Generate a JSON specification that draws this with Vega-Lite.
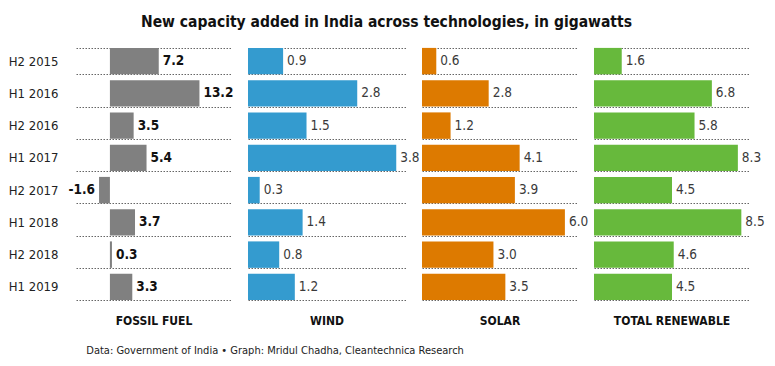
{
  "$schema": "https://vega.github.io/schema/vega-lite/v6.json",
  "padding": {"left": 8, "top": 14, "right": 2, "bottom": 5},
  "config": {
    "font": "DejaVu Sans Condensed, sans-serif",
    "locale": {"number": {"decimal": ".", "thousands": ",", "grouping": [3], "currency": ["$", ""], "minus": "-"}},
    "view": {"stroke": null},
    "axisY": {
      "labelFontSize": 13,
      "labelColor": "#222",
      "labelPadding": 18,
      "ticks": false,
      "domain": false,
      "grid": true,
      "tickBand": "extent",
      "gridDash": [1.5, 1.5],
      "gridColor": "#666",
      "gridWidth": 1,
      "title": null
    },
    "title": {"font": "DejaVu Sans Condensed, sans-serif"}
  },
  "title": {
    "text": "New capacity added in India across technologies, in gigawatts",
    "fontSize": 15.5,
    "fontWeight": "bold",
    "color": "#111",
    "anchor": "middle",
    "offset": 9
  },
  "data": {
    "values": [
      {"period": "H2 2015", "tech": "Fossil Fuel", "value": 7.2},
      {"period": "H1 2016", "tech": "Fossil Fuel", "value": 13.2},
      {"period": "H2 2016", "tech": "Fossil Fuel", "value": 3.5},
      {"period": "H1 2017", "tech": "Fossil Fuel", "value": 5.4},
      {"period": "H2 2017", "tech": "Fossil Fuel", "value": -1.6},
      {"period": "H1 2018", "tech": "Fossil Fuel", "value": 3.7},
      {"period": "H2 2018", "tech": "Fossil Fuel", "value": 0.3},
      {"period": "H1 2019", "tech": "Fossil Fuel", "value": 3.3},
      {"period": "H2 2015", "tech": "Wind", "value": 0.9},
      {"period": "H1 2016", "tech": "Wind", "value": 2.8},
      {"period": "H2 2016", "tech": "Wind", "value": 1.5},
      {"period": "H1 2017", "tech": "Wind", "value": 3.8},
      {"period": "H2 2017", "tech": "Wind", "value": 0.3},
      {"period": "H1 2018", "tech": "Wind", "value": 1.4},
      {"period": "H2 2018", "tech": "Wind", "value": 0.8},
      {"period": "H1 2019", "tech": "Wind", "value": 1.2},
      {"period": "H2 2015", "tech": "Solar", "value": 0.6},
      {"period": "H1 2016", "tech": "Solar", "value": 2.8},
      {"period": "H2 2016", "tech": "Solar", "value": 1.2},
      {"period": "H1 2017", "tech": "Solar", "value": 4.1},
      {"period": "H2 2017", "tech": "Solar", "value": 3.9},
      {"period": "H1 2018", "tech": "Solar", "value": 6.0},
      {"period": "H2 2018", "tech": "Solar", "value": 3.0},
      {"period": "H1 2019", "tech": "Solar", "value": 3.5},
      {"period": "H2 2015", "tech": "Total Renewable", "value": 1.6},
      {"period": "H1 2016", "tech": "Total Renewable", "value": 6.8},
      {"period": "H2 2016", "tech": "Total Renewable", "value": 5.8},
      {"period": "H1 2017", "tech": "Total Renewable", "value": 8.3},
      {"period": "H2 2017", "tech": "Total Renewable", "value": 4.5},
      {"period": "H1 2018", "tech": "Total Renewable", "value": 8.5},
      {"period": "H2 2018", "tech": "Total Renewable", "value": 4.6},
      {"period": "H1 2019", "tech": "Total Renewable", "value": 4.5}
    ]
  },
  "vconcat": [
    {
      "title": {
        "text": "Data: Government of India • Graph: Mridul Chadha, Cleantechnica Research",
        "orient": "bottom",
        "anchor": "start",
        "fontSize": 11,
        "fontWeight": "normal",
        "color": "#222",
        "dx": 78,
        "offset": 18
      },
      "bounds": "flush",
      "spacing": 16,
      "hconcat": [
        {
          "width": 156,
          "height": 258,
          "title": {"text": "FOSSIL FUEL", "orient": "bottom", "fontSize": 12, "fontWeight": "bold", "color": "#111", "offset": 13},
          "transform": [{"filter": "datum.tech === 'Fossil Fuel'"}],
          "encoding": {
            "y": {"field": "period", "type": "nominal", "sort": ["H2 2015", "H1 2016", "H2 2016", "H1 2017", "H2 2017", "H1 2018", "H2 2018", "H1 2019"], "scale": {"paddingInner": 0.18, "paddingOuter": 0.09}},
            "x": {"field": "value", "type": "quantitative", "scale": {"domain": [-5, 18], "nice": false, "zero": false}, "axis": null}
          },
          "layer": [
            {"mark": {"type": "bar", "color": "#808080"}},
            {
              "transform": [{"filter": "datum.value >= 0"}],
              "mark": {"type": "text", "align": "left", "dx": 4, "fontSize": 13.5, "fontWeight": "bold", "color": "#111"},
              "encoding": {"text": {"field": "value", "type": "quantitative", "format": ".1f"}}
            },
            {
              "transform": [{"filter": "datum.value < 0"}],
              "mark": {"type": "text", "align": "right", "dx": -4, "fontSize": 13.5, "fontWeight": "bold", "color": "#111"},
              "encoding": {"text": {"field": "value", "type": "quantitative", "format": ".1f"}}
            }
          ]
        },
        {
          "width": 158,
          "height": 258,
          "title": {"text": "WIND", "orient": "bottom", "fontSize": 12, "fontWeight": "bold", "color": "#111", "offset": 13},
          "transform": [{"filter": "datum.tech === 'Wind'"}],
          "encoding": {
            "y": {"field": "period", "type": "nominal", "sort": ["H2 2015", "H1 2016", "H2 2016", "H1 2017", "H2 2017", "H1 2018", "H2 2018", "H1 2019"], "scale": {"paddingInner": 0.18, "paddingOuter": 0.09}, "axis": {"labels": false}},
            "x": {"field": "value", "type": "quantitative", "scale": {"domain": [0, 4.05], "nice": false}, "axis": null}
          },
          "layer": [
            {"mark": {"type": "bar", "color": "#349bcf"}},
            {
              "mark": {"type": "text", "align": "left", "dx": 4, "fontSize": 13.5, "color": "#3a3a3a"},
              "encoding": {"text": {"field": "value", "type": "quantitative", "format": ".1f"}}
            }
          ]
        },
        {
          "width": 156,
          "height": 258,
          "title": {"text": "SOLAR", "orient": "bottom", "fontSize": 12, "fontWeight": "bold", "color": "#111", "offset": 13},
          "transform": [{"filter": "datum.tech === 'Solar'"}],
          "encoding": {
            "y": {"field": "period", "type": "nominal", "sort": ["H2 2015", "H1 2016", "H2 2016", "H1 2017", "H2 2017", "H1 2018", "H2 2018", "H1 2019"], "scale": {"paddingInner": 0.18, "paddingOuter": 0.09}, "axis": {"labels": false}},
            "x": {"field": "value", "type": "quantitative", "scale": {"domain": [0, 6.55], "nice": false}, "axis": null}
          },
          "layer": [
            {"mark": {"type": "bar", "color": "#dd7a00"}},
            {
              "mark": {"type": "text", "align": "left", "dx": 4, "fontSize": 13.5, "color": "#3a3a3a"},
              "encoding": {"text": {"field": "value", "type": "quantitative", "format": ".1f"}}
            }
          ]
        },
        {
          "width": 156,
          "height": 258,
          "title": {"text": "TOTAL RENEWABLE", "orient": "bottom", "fontSize": 12, "fontWeight": "bold", "color": "#111", "offset": 13},
          "transform": [{"filter": "datum.tech === 'Total Renewable'"}],
          "encoding": {
            "y": {"field": "period", "type": "nominal", "sort": ["H2 2015", "H1 2016", "H2 2016", "H1 2017", "H2 2017", "H1 2018", "H2 2018", "H1 2019"], "scale": {"paddingInner": 0.18, "paddingOuter": 0.09}, "axis": {"labels": false}},
            "x": {"field": "value", "type": "quantitative", "scale": {"domain": [0, 9], "nice": false}, "axis": null}
          },
          "layer": [
            {"mark": {"type": "bar", "color": "#67b93c"}},
            {
              "mark": {"type": "text", "align": "left", "dx": 4, "fontSize": 13.5, "color": "#3a3a3a"},
              "encoding": {"text": {"field": "value", "type": "quantitative", "format": ".1f"}}
            }
          ]
        }
      ]
    }
  ]
}
